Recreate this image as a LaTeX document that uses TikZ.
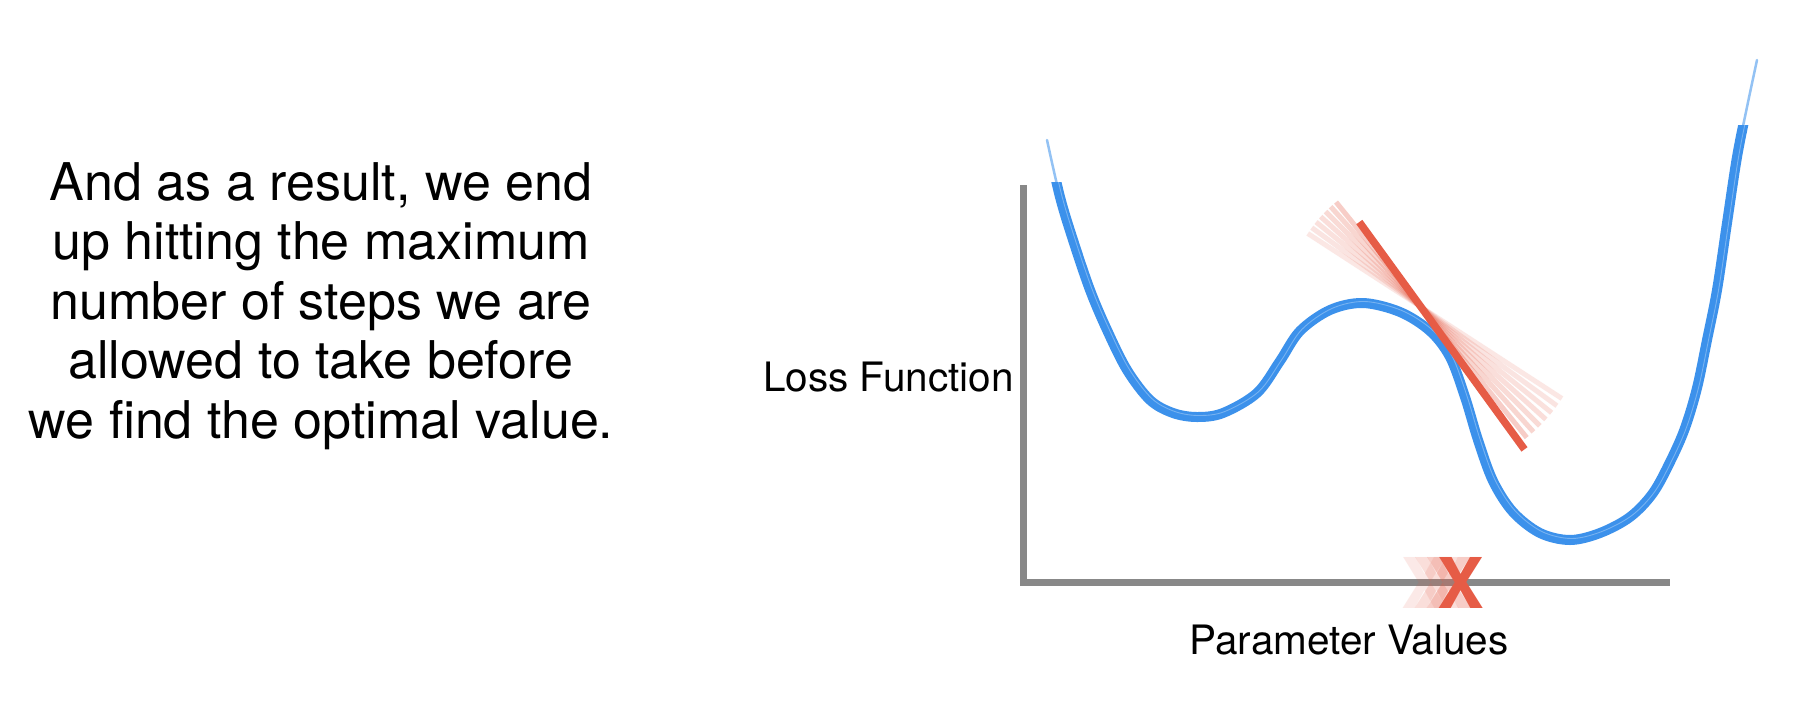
\documentclass[tikz,border=0pt]{standalone}
\usepackage{fontspec}
\setmainfont{TeX Gyre Heros}
\usetikzlibrary{calc}
\definecolor{curveblue}{RGB}{60,145,235}
\definecolor{tanred}{RGB}{230,92,70}
\definecolor{axisgray}{RGB}{136,136,136}
\begin{document}
\begin{tikzpicture}[x=1pt,y=-1pt,
  axisline/.style={draw=axisgray,line width=7pt,line join=miter},
  lossthick/.style={curveblue,line width=10pt,line cap=round,line join=round},
  lossthin/.style={curveblue,line width=2.5pt,opacity=0.55,line cap=round},
  lossstreak/.style={white,line width=0.9pt,opacity=0.3},
  tanmain/.style={tanred,line width=7.5pt,line cap=butt},
  tanfaint/.style={tanred,line width=5pt,line cap=butt},
  caption/.style={font=\fontsize{52}{59.5}\selectfont,align=center,inner sep=0pt},
  axlabel/.style={font=\fontsize{40.5}{48}\selectfont,inner sep=0pt},
  xmarker/.style={font=\fontsize{70}{70}\selectfont\bfseries,inner sep=0pt,anchor=base}]
\useasboundingbox (0,0) rectangle (1812,710);
\fill[white] (0,0) rectangle (1812,710);

% caption
\node[caption,anchor=north] (caption) at (321,162) {And as a result, we end\\up hitting the maximum\\number of steps we are\\allowed to take before\\we find the optimal value.};

% axes
\coordinate (ytop) at (1023,185);
\coordinate (origin) at (1023,582);
\coordinate (xend) at (1670,582);
\draw[axisline] (ytop) -- (origin) -- (xend);

\node[axlabel,anchor=base east] (ylabel) at (1014,391) {Loss Function};
\node[axlabel,anchor=base] (xlabel) at (1349,654) {Parameter Values};

% X marker with faint trail
\node[xmarker,text=tanred,text opacity=0.13] (x3) at (1425,608) {X};
\node[xmarker,text=tanred,text opacity=0.2] (x2) at (1437,608) {X};
\node[xmarker,text=tanred,text opacity=0.3] (x1) at (1449,608) {X};
\node[xmarker,text=tanred] (xmark) at (1461,608) {X};

% faint tangent lines
\coordinate (piv) at (1421,307);
\foreach \a/\o in {33/0.14,36/0.16,39/0.18,42/0.2,45/0.22,48/0.25,51/0.3}{
  \draw[tanfaint,opacity=\o] ($(piv)+(180+\a:135)$) -- ($(piv)+(\a:168)$);
}

% loss curve: thin tails
\draw[lossthin] plot[smooth,tension=0.55] coordinates {(1047,140) (1060,197) (1073,240) (1090,290) (1107,330) (1127,370) (1150,400) (1173,413) (1197,417) (1223,413) (1257,393) (1280,361) (1300,331) (1330,310) (1363,303) (1400,312) (1430,331) (1450,357) (1465,397) (1478,440) (1493,481) (1513,512) (1540,533) (1570,540) (1600,533) (1630,517) (1653,493) (1671,460) (1685,428) (1697,388) (1707,340) (1717,290) (1727,223) (1737,157) (1747,107) (1757,60)};
\begin{scope}
\clip (1000,182) -- (1500,182) -- (1500,125) -- (1812,125) -- (1812,710) -- (1000,710) -- cycle;
\draw[lossthick] plot[smooth,tension=0.55] coordinates {(1047,140) (1060,197) (1073,240) (1090,290) (1107,330) (1127,370) (1150,400) (1173,413) (1197,417) (1223,413) (1257,393) (1280,361) (1300,331) (1330,310) (1363,303) (1400,312) (1430,331) (1450,357) (1465,397) (1478,440) (1493,481) (1513,512) (1540,533) (1570,540) (1600,533) (1630,517) (1653,493) (1671,460) (1685,428) (1697,388) (1707,340) (1717,290) (1727,223) (1737,157) (1747,107) (1757,60)};
\draw[lossstreak,shift={(1.8,-1.5)}] plot[smooth,tension=0.55] coordinates {(1047,140) (1060,197) (1073,240) (1090,290) (1107,330) (1127,370) (1150,400) (1173,413) (1197,417) (1223,413) (1257,393) (1280,361) (1300,331) (1330,310) (1363,303) (1400,312) (1430,331) (1450,357) (1465,397) (1478,440) (1493,481) (1513,512) (1540,533) (1570,540) (1600,533) (1630,517) (1653,493) (1671,460) (1685,428) (1697,388) (1707,340) (1717,290) (1727,223) (1737,157) (1747,107) (1757,60)};
\end{scope}

% main tangent line
\draw[tanmain] ($(piv)+(234:105)$) coordinate (ttop) -- ($(piv)+(54:176)$) coordinate (tbot);
\end{tikzpicture}
\end{document}
